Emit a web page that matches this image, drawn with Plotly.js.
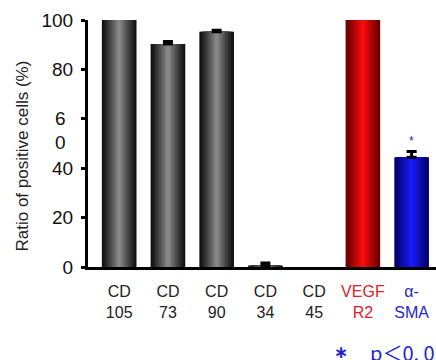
<!DOCTYPE html>
<html><head><meta charset="utf-8">
<script src="https://cdn.plot.ly/plotly-3.0.1.min.js"></script>
<style>html,body{margin:0;padding:0;background:#fff}</style>
</head><body>
<div id="chart" style="width:436px;height:360px"></div>
<script>
// ---- data ----
const categories = ['CD 105', 'CD 73', 'CD 90', 'CD 34', 'CD 45', 'VEGF R2', 'α- SMA'];
const tickLines = [['CD','105'], ['CD','73'], ['CD','90'], ['CD','34'], ['CD','45'], ['VEGF','R2'], ['α-','SMA']];
const ratios = [100, 90.3, 95.2, 0.6, 0, 100, 44.4];
const errors = [null, 1.0, 0.7, 1.0, null, null, 2.4];
const yTickVals = [0, 20, 40, 60, 80, 100];
const yTickText = ['0', '20', '40', '', '80', '100'];
const splitTick60 = ['6', '0'];           // the "60" label is broken over two lines
const sigMarkText = '*';
const sigCategory = 'α- SMA';
const noteStar = '∗';
const noteText = 'p＜0. 01';

// ---- styles ----
const EDGE = ['#0c0c0c','#0c0c0c','#0c0c0c','#0c0c0c','#0c0c0c','#640000','#000064'];
const CENTER = ['#8e8e8e','#8e8e8e','#8e8e8e','#8e8e8e','#8e8e8e','#ff0c0c','#1c1cff'];
const LABEL_COLORS = ['#222','#222','#222','#222','#222','#e0202a','#2424cc'];
const BLUE = '#2424cc';
const TICK_FONT = { family: 'Liberation Sans, Arial, sans-serif', size: 19, color: '#111' };
const BAR_W = 0.71;
const N = 12;

function hex2rgb(h){h=h.replace('#','');return [0,2,4].map(i=>parseInt(h.substr(i,2),16));}
function mix(a,b,t){const A=hex2rgb(a),B=hex2rgb(b);return 'rgb('+A.map((v,i)=>Math.round(v+(B[i]-v)*t)).join(',')+')';}

// error bars only where an error was measured (drawn first, bars cover the lower part)
const withErr = errors.map((e, i) => (e == null ? -1 : i)).filter(i => i >= 0);
const traces = [{
  type: 'scatter', mode: 'markers',
  x: withErr.map(i => categories[i]), y: withErr.map(i => ratios[i]),
  marker: { size: 1, opacity: 0 },
  error_y: { type: 'data', array: withErr.map(i => errors[i]), arrayminus: withErr.map(() => 0),
             symmetric: false, color: '#000', thickness: 3, width: 5 },
  hoverinfo: 'skip', showlegend: false, cliponaxis: false
}];
for (let k = 0; k < N; k++) {
  const u = 1 - (k + 0.5) / N;           // distance from bar centre (0..1)
  const t = Math.pow(1 - u, 1.1);
  traces.push({
    type: 'bar', x: categories, y: ratios,
    width: BAR_W * (1 - k / N),
    marker: { color: categories.map((c, i) => mix(EDGE[i], CENTER[i], t)),
              line: { width: 0 } },
    hoverinfo: 'skip', showlegend: false
  });
}

const tickText = tickLines.map((ls, i) =>
  ls.map(s => '<span style="color:' + LABEL_COLORS[i] + '">' + s + '</span>').join('<br>'));

const layout = {
  width: 436, height: 360,
  margin: { l: 88, r: 0, t: 20, b: 93, pad: 0 },
  paper_bgcolor: '#fff', plot_bgcolor: '#fff',
  barmode: 'overlay', showlegend: false, hovermode: false,
  xaxis: {
    type: 'category', categoryorder: 'array', categoryarray: categories,
    range: [-0.64, 6.5], tickmode: 'array',
    tickvals: categories, ticktext: tickText,
    showline: true, linewidth: 3, linecolor: '#000', ticks: '',
    showgrid: false, zeroline: false, ticklabelstandoff: 8,
    tickfont: { family: 'Liberation Sans, Arial, sans-serif', size: 16, color: '#222' },
    fixedrange: true
  },
  yaxis: {
    range: [0, 100], tickmode: 'array', tickvals: yTickVals, ticktext: yTickText,
    ticks: 'outside', ticklen: 4, tickwidth: 3, tickcolor: '#000',
    showline: true, linewidth: 3, linecolor: '#000',
    showgrid: false, zeroline: false, ticklabelstandoff: 4,
    tickfont: TICK_FONT,
    fixedrange: true
  },
  annotations: [
    { text: 'Ratio of positive cells (%)', textangle: -90, xref: 'paper', yref: 'paper',
      x: (22 - 88) / 348, y: (267 - 156.5) / 247, xanchor: 'center', yanchor: 'middle',
      showarrow: false, font: { family: 'Liberation Sans, Arial, sans-serif', size: 17, color: '#222' } },
    { text: splitTick60[0], xref: 'paper', yref: 'y', x: (60.5 - 88) / 348, y: 60,
      xanchor: 'center', yanchor: 'middle', showarrow: false, font: TICK_FONT },
    { text: splitTick60[1], xref: 'paper', yref: 'y', x: (60.5 - 88) / 348, y: 50.3,
      xanchor: 'center', yanchor: 'middle', showarrow: false, font: TICK_FONT },
    { text: sigMarkText, xref: 'x', yref: 'y', x: sigCategory, y: 51,
      xanchor: 'center', yanchor: 'middle', showarrow: false,
      font: { family: 'Liberation Sans, Arial, sans-serif', size: 12, color: BLUE } },
    { text: '<b>' + noteStar + '</b>', xref: 'paper', yref: 'paper', x: (341 - 88) / 348, y: (267 - 352) / 247,
      xanchor: 'center', yanchor: 'middle', showarrow: false,
      font: { family: 'DejaVu Sans, sans-serif', size: 17, color: BLUE } },
    { text: noteText, xref: 'paper', yref: 'paper', x: (368 - 88) / 348, y: (267 - 352) / 247,
      xanchor: 'left', yanchor: 'middle', showarrow: false,
      font: { family: 'Noto Sans CJK JP, sans-serif', size: 20, color: BLUE } }
  ]
};

Plotly.newPlot('chart', traces, layout, { displayModeBar: false, staticPlot: true });
</script>
</body></html>
